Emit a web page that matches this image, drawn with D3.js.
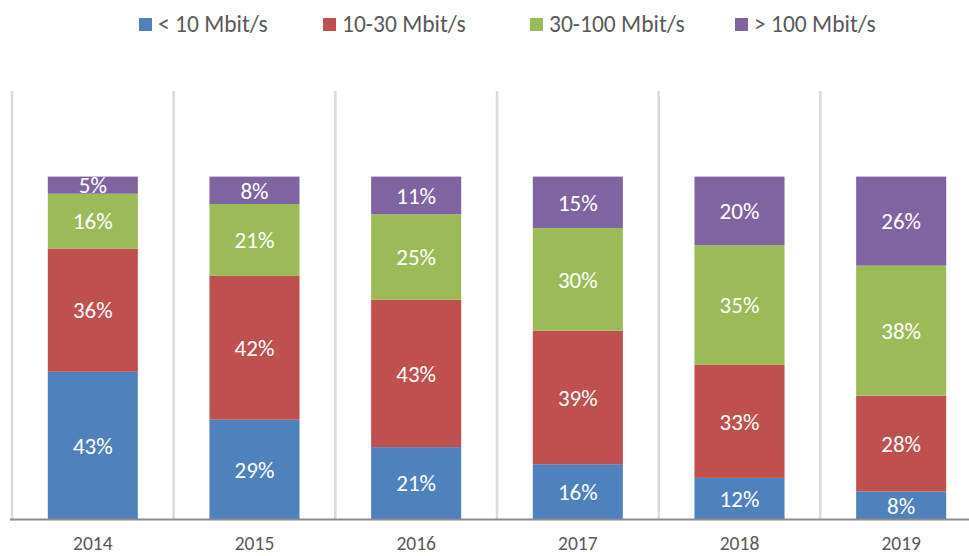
<!DOCTYPE html>
<html>
<head>
<meta charset="utf-8">
<script src="https://cdn.jsdelivr.net/npm/d3@7"></script>
<style>
  body { margin: 0; background: #fff; }
  text { font-family: Calibri, Carlito, Lato, sans-serif; }
</style>
</head>
<body>
<script>
// data
const years = ["2014", "2015", "2016", "2017", "2018", "2019"];
const seriesNames = ["< 10 Mbit/s", "10-30 Mbit/s", "30-100 Mbit/s", "> 100 Mbit/s"];
const below10 = [43, 29, 21, 16, 12, 8];
const from10to30 = [36, 42, 43, 39, 33, 28];
const from30to100 = [16, 21, 25, 30, 35, 38];
const above100 = [5, 8, 11, 15, 20, 26];
const colors = ["#4F81BD", "#C0504D", "#9BBB59", "#8064A2"];

const width = 969, height = 556;
const plot = {left: 12, right: 982, top: 91, bottom: 519};

const svg = d3.select("body").append("svg")
    .attr("width", width)
    .attr("height", height);

const table = years.map((y, i) => ({
    year: y,
    s0: below10[i], s1: from10to30[i], s2: from30to100[i], s3: above100[i]
}));
const keys = ["s0", "s1", "s2", "s3"];
const stacked = d3.stack().keys(keys)(table);

const x = d3.scaleBand().domain(years)
    .range([plot.left, plot.right])
    .paddingInner(0.443).paddingOuter(0.2215);
const y = d3.scaleLinear().domain([0, 125]).range([plot.bottom, plot.top]);

// vertical separators between categories
svg.append("g").selectAll("line")
    .data(years)
    .join("line")
    .attr("x1", d => x(d) - x.step() * x.paddingInner() / 2)
    .attr("x2", d => x(d) - x.step() * x.paddingInner() / 2)
    .attr("y1", y(125))
    .attr("y2", y(0))
    .attr("stroke", "#d9d9d9")
    .attr("stroke-width", 2.5);

// bars
const layer = svg.append("g").selectAll("g")
    .data(stacked)
    .join("g")
    .attr("fill", (d, i) => colors[i]);

layer.selectAll("rect")
    .data(d => d)
    .join("rect")
    .attr("x", d => x(d.data.year))
    .attr("width", x.bandwidth())
    .attr("y", d => y(d[1]))
    .attr("height", d => y(d[0]) - y(d[1]));

// labels
layer.selectAll("text")
    .data(d => d)
    .join("text")
    .attr("x", d => x(d.data.year) + x.bandwidth() / 2)
    .attr("y", d => (y(d[0]) + y(d[1])) / 2)
    .attr("dy", "0.36em")
    .attr("text-anchor", "middle")
    .attr("fill", "#fff")
    .style("font-size", "23px")
    .text(d => (d[1] - d[0]) + "%");

// x axis
const xAxis = svg.append("g")
    .attr("transform", "translate(0," + plot.bottom + ")")
    .call(d3.axisBottom(x).tickSize(0).tickPadding(17));
xAxis.select(".domain").remove();
xAxis.append("line")
    .attr("x1", 10).attr("x2", width)
    .attr("y1", 0.5).attr("y2", 0.5)
    .attr("stroke", "#8c8c8c")
    .attr("stroke-width", 2);
xAxis.selectAll(".tick text")
    .attr("fill", "#595959")
    .style("font-family", "Calibri, Carlito, Lato, sans-serif")
    .style("font-size", "19.5px");

// legend
const legendX = [139, 323, 530, 735];
const legend = svg.append("g").selectAll("g")
    .data(seriesNames)
    .join("g")
    .attr("transform", (d, i) => "translate(" + legendX[i] + ",18)");
legend.append("rect")
    .attr("width", 13).attr("height", 13)
    .attr("fill", (d, i) => colors[i]);
legend.append("text")
    .attr("x", 19).attr("y", 14)
    .attr("fill", "#595959")
    .style("font-size", "23.5px")
    .text(d => d);
</script>
</body>
</html>
